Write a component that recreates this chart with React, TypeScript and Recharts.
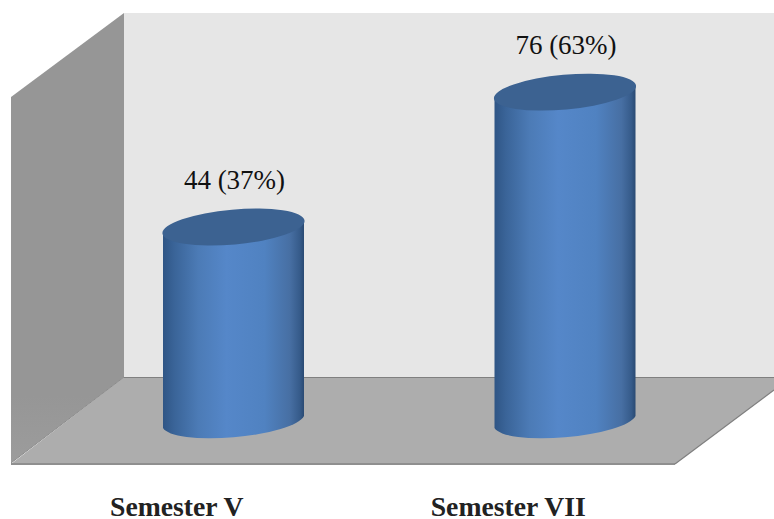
import React from "react";
import { BarChart, Bar, XAxis, YAxis, Customized, LabelList } from "recharts";

const categories = ["Semester V", "Semester VII"];
const counts = [44, 76];
const shares = [37, 63];

const rows = categories.map((semester, i) => ({ semester, count: counts[i], share: shares[i] }));

const SERIF = '"Liberation Serif", "Times New Roman", serif';

// Room behind the columns: back wall, side wall and floor in a fixed oblique projection.
function Room() {
  return (
    <g>
      <polygon points="124,13 774,13 774,377 124,377" fill="#e6e6e6" />
      <polygon points="11,97 124,13 124,377 11,463" fill="url(#sideWall)" />
      <polygon points="124,377 774,377 774,390 675,464 11,464" fill="#adadad" />
      <line x1="124" y1="377.5" x2="774" y2="377.5" stroke="#808080" strokeWidth={1} />
      <line x1="11" y1="463" x2="124" y2="377" stroke="#8c8c8c" strokeWidth={1} />
      <line x1="11" y1="464" x2="675" y2="464" stroke="#8f8f8f" strokeWidth={2} />
      <line x1="675" y1="464" x2="774" y2="390" stroke="#7f7f7f" strokeWidth={1.2} />
      <defs>
        <linearGradient id="sideWall" x1="0" y1="0" x2="0" y2="1">
          <stop offset="0" stopColor="#969696" />
          <stop offset="0.85" stopColor="#969696" />
          <stop offset="1" stopColor="#9c9c9c" />
        </linearGradient>
        <linearGradient id="cylinderBody" x1="0" y1="0" x2="1" y2="0">
          <stop offset="0" stopColor="#2f5585" />
          <stop offset="0.08" stopColor="#3a6498" />
          <stop offset="0.25" stopColor="#4c7bb6" />
          <stop offset="0.45" stopColor="#5587c9" />
          <stop offset="0.72" stopColor="#5082c1" />
          <stop offset="0.9" stopColor="#476fa3" />
          <stop offset="0.97" stopColor="#365b8a" />
          <stop offset="1" stopColor="#2a4a73" />
        </linearGradient>
      </defs>
    </g>
  );
}

// Tilted cylinder standing on the floor; the value sets the height of its top face.
function Cylinder(props: any) {
  const { x, y, width, height } = props;
  const cx = x + width / 2;
  const rx = width * 0.506;
  const ry = width * 0.1235;
  const tilt = -5.14;
  const lean = width * 0.0426;
  const bottom = y + height + 9.5;
  const body = [
    `M ${x} ${y + lean}`,
    `L ${x} ${bottom + lean}`,
    `A ${rx} ${ry} ${tilt} 0 0 ${x + width} ${bottom - lean}`,
    `L ${x + width} ${y - lean}`,
    `A ${rx} ${ry} ${tilt} 0 0 ${x} ${y + lean}`,
    "Z",
  ].join(" ");
  return (
    <g>
      <path d={body} fill="url(#cylinderBody)" />
      <ellipse cx={cx} cy={y} rx={rx} ry={ry} fill="#3c6291" transform={`rotate(${tilt} ${cx} ${y})`} />
    </g>
  );
}

function ValueLabel(props: any) {
  const { x, y, width, index } = props;
  return (
    <text x={x + width / 2 + 1} y={y - 38} textAnchor="middle" fontFamily={SERIF} fontSize={27} fill="#111">
      {`${counts[index]} (${shares[index]}%)`}
    </text>
  );
}

function CategoryTick(props: any) {
  const { x, y, payload } = props;
  return (
    <text
      x={x - 57}
      y={y + 95}
      textAnchor="middle"
      fontFamily={SERIF}
      fontSize={27.7}
      fontWeight="bold"
      fill="#222"
    >
      {payload.value}
    </text>
  );
}

export default function App() {
  return (
    <div style={{ position: "absolute", left: 0, top: 0, width: 774, height: 519 }}>
      <BarChart
        width={774}
        height={519}
        data={rows}
        barSize={141}
        margin={{ top: 12, right: 43, bottom: 0, left: 68 }}
      >
        <Customized component={Room} />
        <XAxis
          dataKey="semester"
          height={106.4}
          axisLine={false}
          tickLine={false}
          tick={<CategoryTick />}
          interval={0}
        />
        <YAxis hide domain={[0, 95]} />
        <Bar dataKey="count" isAnimationActive={false} shape={<Cylinder />}>
          <LabelList dataKey="count" content={<ValueLabel />} />
        </Bar>
      </BarChart>
    </div>
  );
}
